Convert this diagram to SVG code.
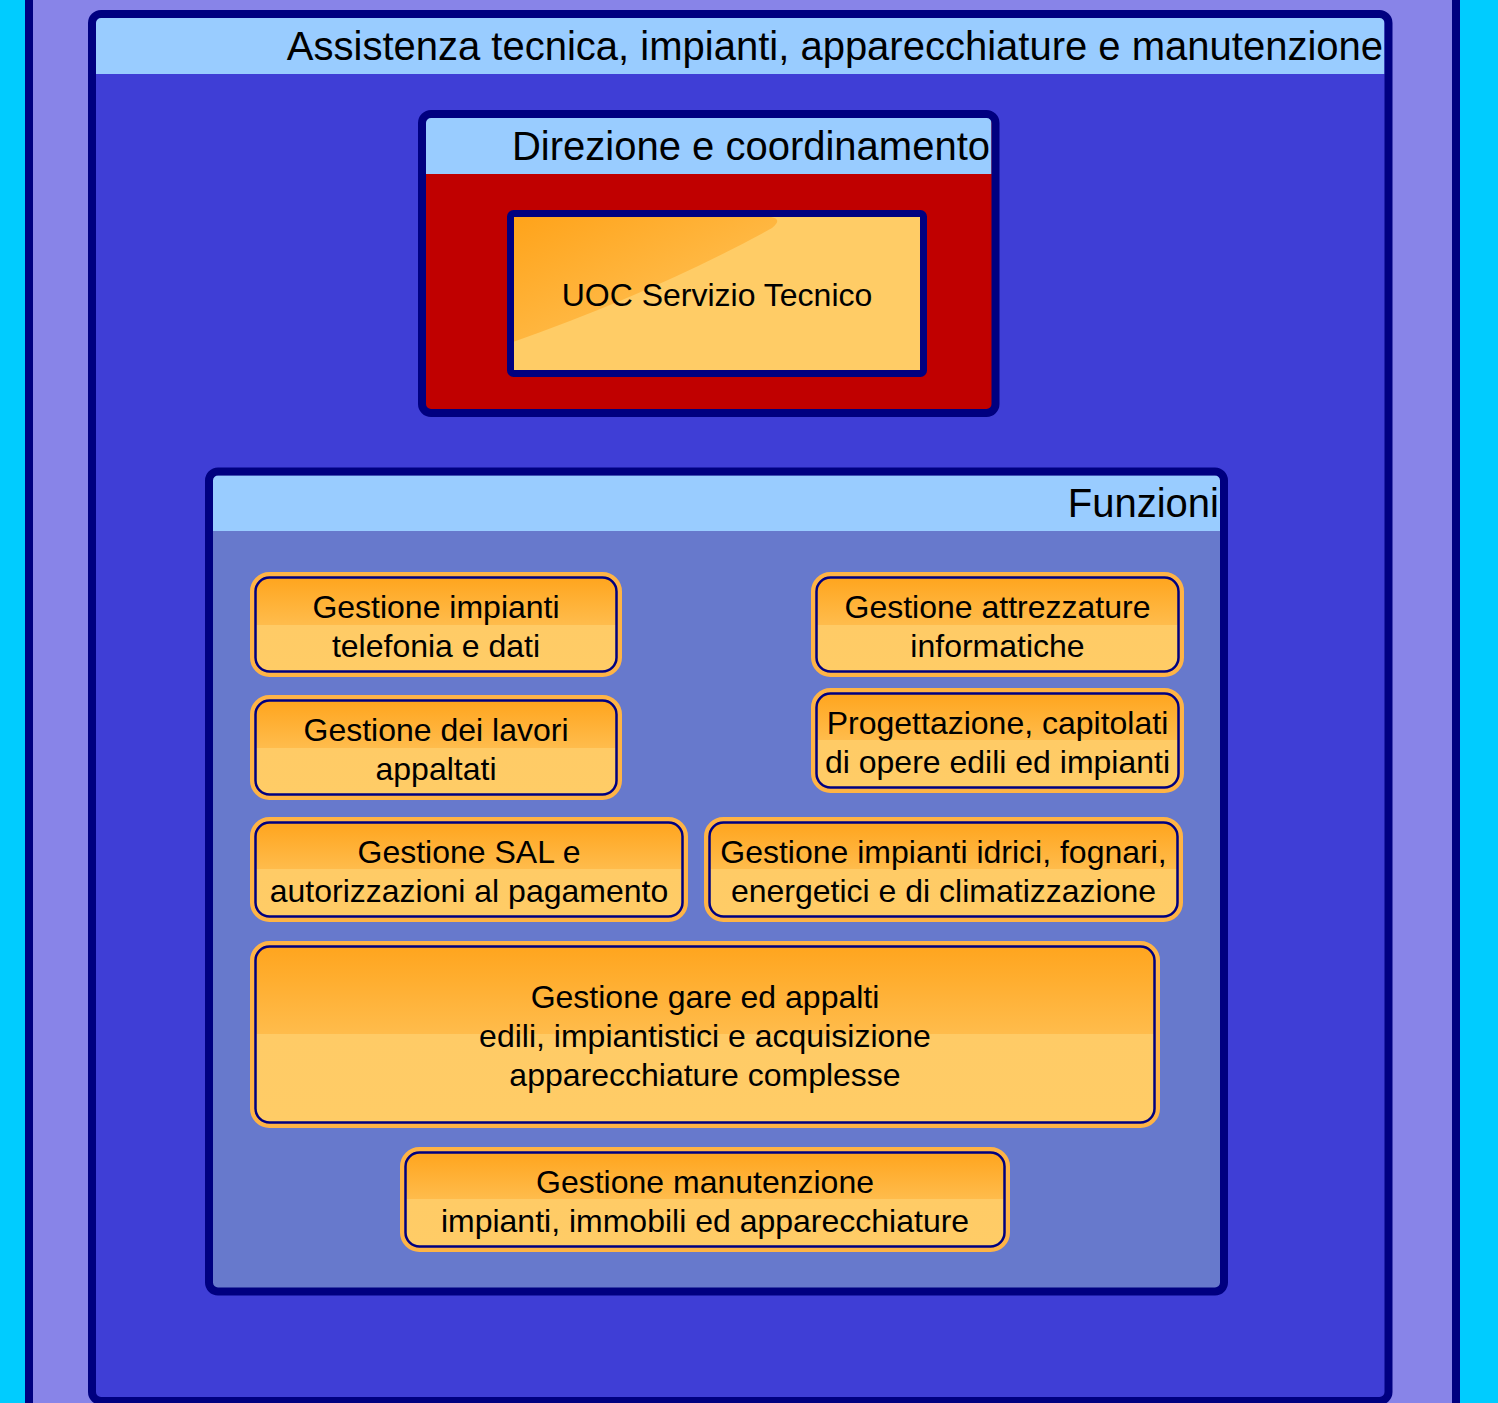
<svg xmlns="http://www.w3.org/2000/svg" width="1498" height="1403" viewBox="0 0 1498 1403">
<defs>
<linearGradient id="og" x1="0" y1="0" x2="0" y2="1">
<stop offset="0" stop-color="#FFA51E"/>
<stop offset="0.5" stop-color="#FFBC4C"/>
<stop offset="0.5" stop-color="#FFCB66"/>
<stop offset="1" stop-color="#FFCC66"/>
</linearGradient>
<linearGradient id="hl" x1="0" y1="0" x2="1" y2="1">
<stop offset="0" stop-color="#FFA31A"/>
<stop offset="1" stop-color="#FFC862"/>
</linearGradient>
<style>
.ring{fill:none;stroke:#FFB445;stroke-width:5}
.inner{fill:url(#og);stroke:#000080;stroke-width:2.5}
.t{font-family:"Liberation Sans",Arial,sans-serif;font-size:32px;fill:#000;text-anchor:middle}
.h{font-family:"Liberation Sans",Arial,sans-serif;font-size:40px;fill:#000;text-anchor:end}
.border{fill:none;stroke:#000080;stroke-width:8}
</style>
</defs>
<rect x="0" y="0" width="1498" height="1403" fill="#00CCFF"/>
<rect x="29" y="-20" width="1427" height="1450" fill="#8884E8" stroke="#000080" stroke-width="8"/>

<g id="assistenza">
<rect x="92" y="14" width="1296.5" height="1387" rx="9" fill="#3F3ED6"/>
<rect x="96" y="18" width="1288.5" height="56" fill="#99CCFF"/>
<rect x="92" y="14" width="1296.5" height="1387" rx="9" class="border"/>
<text class="h" x="1383" y="60">Assistenza tecnica, impianti, apparecchiature e manutenzione</text>
</g>

<g id="direzione">
<rect x="422" y="114" width="573.5" height="299" rx="9" fill="#C00000"/>
<rect x="426" y="118" width="565.5" height="56" fill="#99CCFF"/>
<rect x="422" y="114" width="573.5" height="299" rx="9" class="border"/>
<text class="h" x="990" y="160">Direzione e coordinamento</text>
</g>

<g id="uoc">
<rect x="510.5" y="213.5" width="413" height="160" fill="#FFCC66"/>
<path d="M513,217 L771,217 Q783,219 772,228 Q660,290 513,342 Z" fill="url(#hl)"/>
<rect x="510.5" y="213.5" width="413" height="160" rx="3" fill="none" stroke="#000080" stroke-width="7"/>
<text class="t" x="717" y="306">UOC Servizio Tecnico</text>
</g>

<g id="funzioni">
<rect x="209" y="471.5" width="1015" height="820" rx="9" fill="#6779CC"/>
<rect x="213" y="475.5" width="1007" height="55.5" fill="#99CCFF"/>
<rect x="209" y="471.5" width="1015" height="820" rx="9" class="border"/>
<text class="h" x="1219" y="517">Funzioni</text>
</g>

<g id="f1">
<rect x="252.5" y="574.5" width="367" height="100" rx="17" class="ring"/>
<rect x="255.5" y="577.5" width="361" height="94" rx="14" class="inner"/>
<text class="t" x="436" y="617.5">Gestione impianti</text>
<text class="t" x="436" y="656.5">telefonia e dati</text>
</g>

<g id="f2">
<rect x="813.5" y="574.5" width="368" height="100" rx="17" class="ring"/>
<rect x="816.5" y="577.5" width="362" height="94" rx="14" class="inner"/>
<text class="t" x="997.5" y="617.5">Gestione attrezzature</text>
<text class="t" x="997.5" y="656.5">informatiche</text>
</g>

<g id="f3">
<rect x="252.5" y="697.5" width="367" height="100" rx="17" class="ring"/>
<rect x="255.5" y="700.5" width="361" height="94" rx="14" class="inner"/>
<text class="t" x="436" y="740.5">Gestione dei lavori</text>
<text class="t" x="436" y="779.5">appaltati</text>
</g>

<g id="f4">
<rect x="813.5" y="690.5" width="368" height="100" rx="17" class="ring"/>
<rect x="816.5" y="693.5" width="362" height="94" rx="14" class="inner"/>
<text class="t" x="997.5" y="733.5">Progettazione, capitolati</text>
<text class="t" x="997.5" y="772.5">di opere edili ed impianti</text>
</g>

<g id="f5">
<rect x="252.5" y="819.5" width="433" height="100" rx="17" class="ring"/>
<rect x="255.5" y="822.5" width="427" height="94" rx="14" class="inner"/>
<text class="t" x="469" y="862.5">Gestione SAL e</text>
<text class="t" x="469" y="901.5">autorizzazioni al pagamento</text>
</g>

<g id="f6">
<rect x="706.5" y="819.5" width="474" height="100" rx="17" class="ring"/>
<rect x="709.5" y="822.5" width="468" height="94" rx="14" class="inner"/>
<text class="t" x="943.5" y="862.5">Gestione impianti idrici, fognari,</text>
<text class="t" x="943.5" y="901.5">energetici e di climatizzazione</text>
</g>

<g id="f7">
<rect x="252.5" y="943.5" width="905" height="182" rx="17" class="ring"/>
<rect x="255.5" y="946.5" width="899" height="176" rx="14" class="inner"/>
<text class="t" x="705" y="1007.5">Gestione gare ed appalti</text>
<text class="t" x="705" y="1046.5">edili, impiantistici e acquisizione</text>
<text class="t" x="705" y="1085.5">apparecchiature complesse</text>
</g>

<g id="f8">
<rect x="402.5" y="1149.5" width="605" height="100" rx="17" class="ring"/>
<rect x="405.5" y="1152.5" width="599" height="94" rx="14" class="inner"/>
<text class="t" x="705" y="1192.5">Gestione manutenzione</text>
<text class="t" x="705" y="1231.5">impianti, immobili ed apparecchiature</text>
</g>

<g id="connectors"/>
</svg>
